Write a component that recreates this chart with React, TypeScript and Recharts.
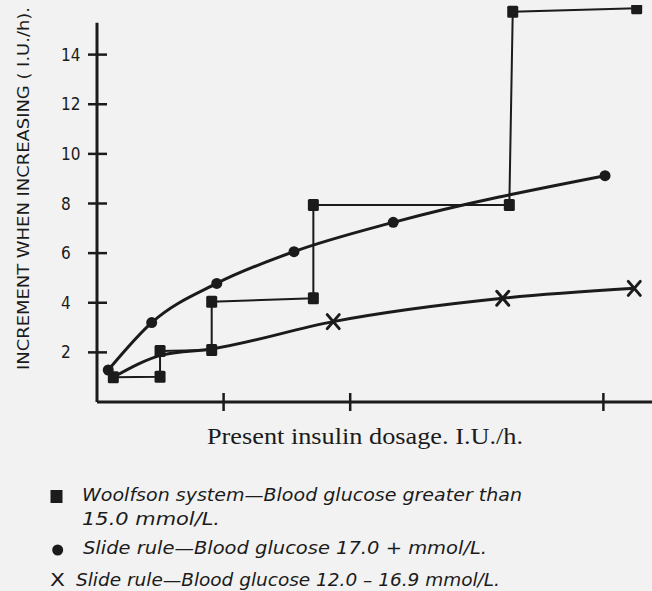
import React from 'react';
import { LineChart, Line, XAxis, YAxis, ReferenceLine, Legend } from 'recharts';

// ---- data (x in axis tick units, y in I.U./h) ----
const xTicks = [1, 2, 4];
const yTicks = [2, 4, 6, 8, 10, 12, 14];
const yAxisTop = 15.28;

const woolfsonX = [0.129, 0.498, 0.498, 0.906, 0.906, 1.709, 1.709, 3.257, 3.284, 4.263];
const woolfsonY = [1.0, 1.02, 2.06, 2.1, 4.04, 4.18, 7.94, 7.94, 15.73, 15.87];

const slide17X = [0.089, 0.432, 0.946, 1.556, 2.34, 4.013];
const slide17Y = [1.29, 3.2, 4.78, 6.06, 7.24, 9.12];

const slide12X = [0.129, 0.52, 0.906, 1.866, 3.205, 4.244];
const slide12Y = [1.0, 1.9, 2.14, 3.24, 4.18, 4.58];
const slide12Marked = [false, false, false, true, true, true];

const xTitle = 'Present insulin dosage. I.U./h.';
const yTitle = 'INCREMENT WHEN INCREASING ( I.U./h).';
const legendWoolfson = ['Woolfson system\u2014Blood glucose greater than', '15.0 mmol/L.'];
const legendSlide17 = 'Slide rule\u2014Blood glucose 17.0 + mmol/L.';
const legendSlide12 = 'Slide rule\u2014Blood glucose 12.0 \u2013 16.9 mmol/L.';

const woolfsonData = woolfsonX.map((x, i) => ({ x, y: woolfsonY[i] }));
const slide17Data = slide17X.map((x, i) => ({ x, y: slide17Y[i] }));
const slide12Data = slide12X.map((x, i) => ({ x, y: slide12Y[i], marked: slide12Marked[i] }));

const INK = '#1b1b1b';

const SquareDot = (p: any) => (
  <rect key={`sq-${p.index}`} x={p.cx - 5.5} y={p.cy - 6} width={11} height={12} rx={1.5} fill={INK} />
);
const CircleDot = (p: any) => <circle key={`ci-${p.index}`} cx={p.cx} cy={p.cy} r={5.5} fill={INK} />;
const CrossDot = (p: any) => {
  if (!p.payload || !p.payload.marked) return <g key={`cr-${p.index}`} />;
  return (
    <g key={`cr-${p.index}`} stroke={INK} strokeWidth={3} strokeLinecap="round">
      <line x1={p.cx - 6} y1={p.cy - 7} x2={p.cx + 6} y2={p.cy + 7} />
      <line x1={p.cx + 6} y1={p.cy - 7} x2={p.cx - 6} y2={p.cy + 7} />
    </g>
  );
};

const YTick = (p: any) => (
  <g>
    <line x1={p.x - 9} x2={p.x + 10} y1={p.y} y2={p.y} stroke={INK} strokeWidth={2.5} />
    <text
      x={p.x - 36}
      y={p.y}
      dominantBaseline="central"
      textAnchor="start"
      fontFamily="'Liberation Sans Narrow', 'DejaVu Sans Condensed', sans-serif"
      fontSize={17}
      fill={INK}
    >
      {p.payload.value}
    </text>
  </g>
);

const XTick = (p: any) => (
  <line x1={p.x} x2={p.x} y1={p.y - 9} y2={p.y + 9} stroke={INK} strokeWidth={2.5} />
);

const XTitle = () => (
  <text
    x={207}
    y={444}
    textLength={316}
    lengthAdjust="spacingAndGlyphs"
    fontFamily="'Liberation Serif', serif"
    fontSize={23}
    fill={INK}
  >
    {xTitle}
  </text>
);

const YTitle = () => (
  <text
    x={0}
    y={0}
    transform="translate(24,188.5) rotate(-90)"
    textAnchor="middle"
    dominantBaseline="central"
    textLength={363}
    lengthAdjust="spacingAndGlyphs"
    fontFamily="'DejaVu Sans Condensed', 'DejaVu Sans', sans-serif"
    fontSize={15}
    fill={INK}
  >
    {yTitle}
  </text>
);

const LegendContent = () => {
  const f = "'DejaVu Sans', sans-serif";
  return (
    <svg width={652} height={121} style={{ display: 'block' }}>
      <rect x={50.5} y={20} width={12} height={13} fill={INK} />
      <text x={82} y={31} textLength={440} lengthAdjust="spacingAndGlyphs" fontFamily={f} fontStyle="italic" fontSize={18} fill={INK}>
        {legendWoolfson[0]}
      </text>
      <text x={82} y={55} textLength={138} lengthAdjust="spacingAndGlyphs" fontFamily={f} fontStyle="italic" fontSize={18} fill={INK}>
        {legendWoolfson[1]}
      </text>
      <circle cx={57.7} cy={80} r={5.5} fill={INK} />
      <text x={83} y={84} textLength={404} lengthAdjust="spacingAndGlyphs" fontFamily={f} fontStyle="italic" fontSize={18} fill={INK}>
        {legendSlide17}
      </text>
      <text x={50} y={116} textLength={15} lengthAdjust="spacingAndGlyphs" fontFamily={f} fontSize={18} fill={INK}>
        X
      </text>
      <text x={76} y={116} textLength={424} lengthAdjust="spacingAndGlyphs" fontFamily={f} fontStyle="italic" fontSize={18} fill={INK}>
        {legendSlide12}
      </text>
    </svg>
  );
};

export default function App() {
  return (
    <div
      style={{
        position: 'absolute',
        left: 0,
        top: 0,
        width: 652,
        height: 591,
        background: '#f2f2f2',
        overflow: 'hidden',
      }}
    >
      <LineChart width={652} height={591} margin={{ top: 5, right: 0, bottom: 159, left: 37 }}>
        <XAxis
          type="number"
          dataKey="x"
          domain={[0, 4.384]}
          allowDataOverflow
          ticks={xTicks}
          interval={0}
          height={30}
          tickSize={0}
          tickMargin={0}
          tickLine={false}
          axisLine={{ stroke: INK, strokeWidth: 3 }}
          tick={<XTick />}
          label={{ content: () => <XTitle /> }}
        />
        <YAxis
          type="number"
          dataKey="y"
          domain={[0, 16]}
          allowDataOverflow
          ticks={yTicks}
          interval={0}
          width={60}
          tickSize={0}
          tickMargin={0}
          tickLine={false}
          axisLine={false}
          tick={<YTick />}
          label={{ content: () => <YTitle /> }}
        />
        <ReferenceLine
          segment={[
            { x: 0, y: 0 },
            { x: 0, y: yAxisTop },
          ]}
          stroke={INK}
          strokeWidth={3}
          ifOverflow="visible"
        />
        <Line
          data={slide17Data}
          dataKey="y"
          type="monotone"
          stroke={INK}
          strokeWidth={3}
          dot={CircleDot}
          activeDot={false}
          isAnimationActive={false}
        />
        <Line
          data={slide12Data}
          dataKey="y"
          type="monotone"
          stroke={INK}
          strokeWidth={3}
          dot={CrossDot}
          activeDot={false}
          isAnimationActive={false}
        />
        <Line
          data={woolfsonData}
          dataKey="y"
          type="linear"
          stroke={INK}
          strokeWidth={2}
          dot={SquareDot}
          activeDot={false}
          isAnimationActive={false}
        />
        <Legend
          layout="vertical"
          align="center"
          verticalAlign="middle"
          content={() => <LegendContent />}
          wrapperStyle={{ left: 0, top: 470, width: 652, height: 121 }}
        />
      </LineChart>
    </div>
  );
}
